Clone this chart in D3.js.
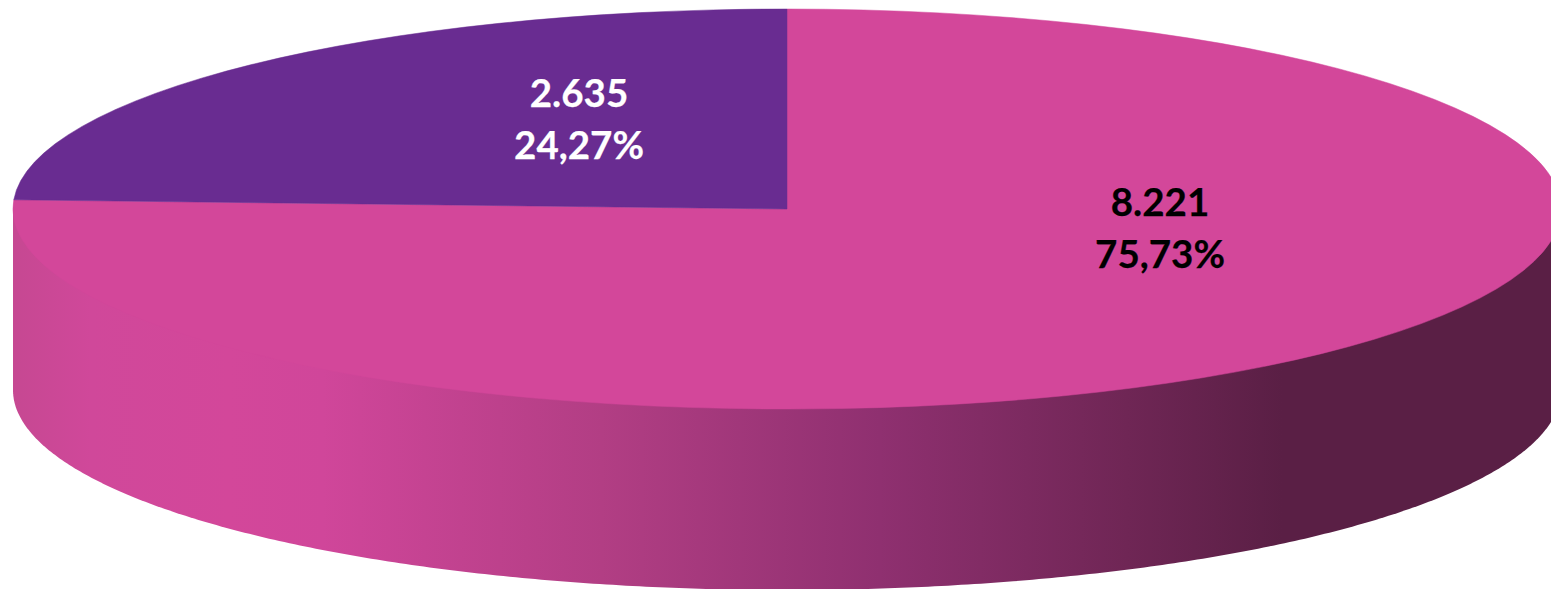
<!DOCTYPE html>
<html>
<head>
<meta charset="utf-8">
<script src="https://cdn.jsdelivr.net/npm/d3@7"></script>
<style>
html, body { margin: 0; padding: 0; background: #fff; overflow: hidden; }
text { font-family: Lato, sans-serif; font-weight: 700; font-size: 38.5px; text-anchor: middle; stroke-width: 0.25px; }
</style>
</head>
<body>
<div id="chart"></div>
<script>
// Slice data, clockwise from twelve o'clock
const sliceValues = [8221, 2635];
const valueLabels = ['8.221', '2.635'];
const percentLabels = ['75,73%', '24,27%'];
const sliceColors = ['#d3479a', '#692c91'];
const labelColors = ['#000000', '#ffffff'];

// Shading of the side wall, left to right
const wallOffsets = [0, 0.05, 0.14, 0.2, 0.38, 0.56, 0.72, 0.82, 1];
const wallColors = ['#c64892', '#d0489a', '#d3479a', '#d0469a', '#b23e84', '#8f3070', '#6f2655', '#5a1f45', '#5a1f45'];

const width = 1551;
const height = 589;
const cx = 787;
const cy = 209;
const rx = 774;
const ry = 200;
const depth = 181;

const svg = d3.select('#chart')
    .append('svg')
    .attr('width', width)
    .attr('height', height)
    .style('display', 'block');

// Horizontal gradient for the wall
const grad = svg.append('defs')
    .append('linearGradient')
    .attr('id', 'wall')
    .attr('gradientUnits', 'userSpaceOnUse')
    .attr('x1', cx - rx)
    .attr('x2', cx + rx)
    .attr('y1', 0)
    .attr('y2', 0);

grad.selectAll('stop')
    .data(wallOffsets)
    .enter()
    .append('stop')
    .attr('offset', d => d)
    .attr('stop-color', (d, i) => wallColors[i]);

// Side wall is the lower half of the ellipse pushed down by depth.
// Its top stays on the centre line so no white shows through the seam.
const wallArea = d3.area()
    .x(a => cx + rx * Math.cos(a))
    .y0(cy)
    .y1(a => cy + depth + ry * Math.sin(a));

svg.append('path')
    .attr('d', wallArea(d3.range(0, 361).map(i => i / 360 * Math.PI)))
    .attr('fill', 'url(#wall)');

// Top face: a unit pie squashed into the ellipse
const pie = d3.pie().sort(null);
const arc = d3.arc().innerRadius(0).outerRadius(1);

const topFace = svg.append('g')
    .attr('transform', `translate(${cx},${cy}) scale(${rx},${ry})`);

topFace.selectAll('path')
    .data(pie(sliceValues))
    .enter()
    .append('path')
    .attr('d', arc)
    .attr('fill', (d, i) => sliceColors[i])
    .attr('stroke', (d, i) => sliceColors[i])
    .attr('stroke-width', 0.5)
    .attr('vector-effect', 'non-scaling-stroke');

// Labels
const labelX = d3.scaleOrdinal().domain([0, 1]).range([1160, 579]);
const labelY = d3.scaleOrdinal().domain([0, 1]).range([216, 107]);
const lineGap = 52;

const labels = svg.selectAll('g.label')
    .data(sliceValues)
    .enter()
    .append('g')
    .attr('class', 'label')
    .attr('transform', (d, i) => `translate(${labelX(i)},${labelY(i)})`)
    .attr('fill', (d, i) => labelColors[i])
    .attr('stroke', (d, i) => labelColors[i]);

labels.append('text').text((d, i) => valueLabels[i]);
labels.append('text').attr('y', lineGap).text((d, i) => percentLabels[i]);
</script>
</body>
</html>
